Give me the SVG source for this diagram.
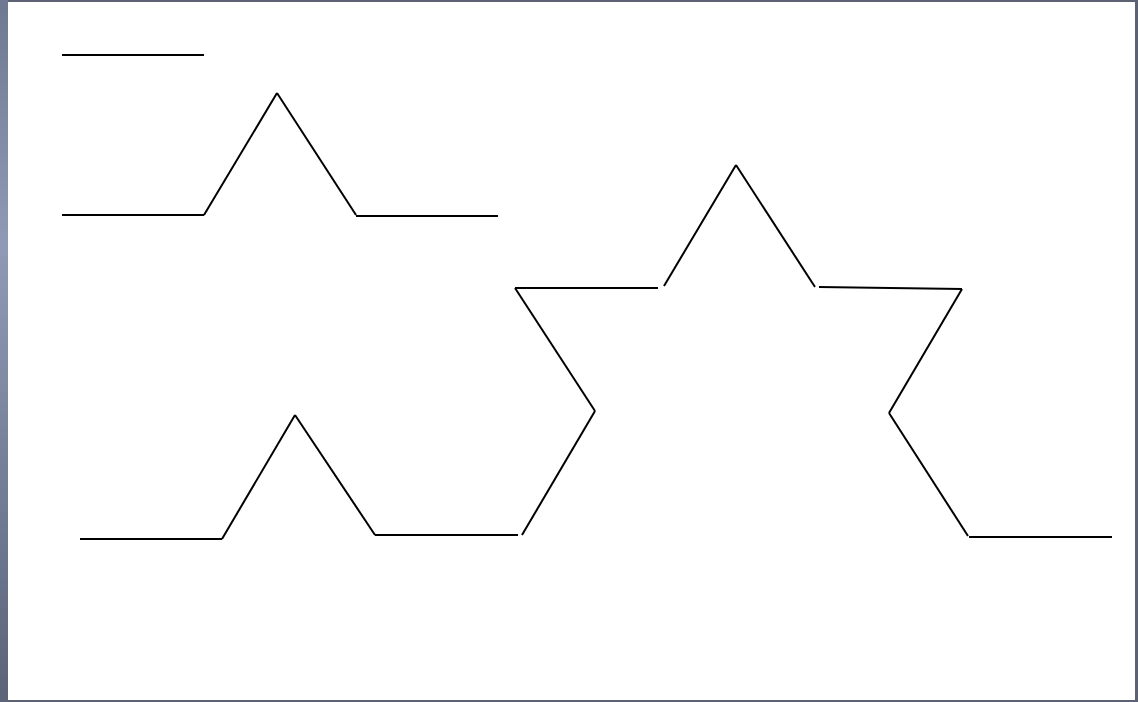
<svg xmlns="http://www.w3.org/2000/svg" width="1138" height="702" viewBox="0 0 1138 702">
<defs>
<linearGradient id="side" x1="0" y1="0" x2="0" y2="1">
<stop offset="0" stop-color="#6e7890"/>
<stop offset="0.35" stop-color="#8f9bb6"/>
<stop offset="1" stop-color="#5a6377"/>
</linearGradient>
<style>
.seg{stroke:#000;stroke-width:2;fill:none;stroke-linecap:butt}
</style>
</defs>
<rect x="0" y="0" width="1138" height="702" fill="#5c6274"/>
<rect x="0" y="0" width="8" height="702" fill="url(#side)"/>
<rect x="8" y="2" width="1127" height="698" fill="#ffffff"/>
<g id="level0">
<line class="seg" x1="62" y1="55" x2="204" y2="55"/>
</g>
<g id="level1">
<line class="seg" x1="62" y1="215" x2="204" y2="215"/>
<line class="seg" x1="204" y1="215" x2="277" y2="93"/>
<line class="seg" x1="277" y1="93" x2="356" y2="215"/>
<line class="seg" x1="356" y1="216" x2="498" y2="216"/>
</g>
<g id="level2">
<line class="seg" x1="80" y1="539" x2="222" y2="539"/>
<line class="seg" x1="222" y1="539" x2="295" y2="415"/>
<line class="seg" x1="295" y1="415" x2="375" y2="535"/>
<line class="seg" x1="375" y1="535" x2="518" y2="535"/>
<line class="seg" x1="522" y1="535" x2="595" y2="411"/>
<line class="seg" x1="595" y1="411" x2="515" y2="288"/>
<line class="seg" x1="515" y1="288" x2="658" y2="288"/>
<line class="seg" x1="664" y1="286" x2="736" y2="165"/>
<line class="seg" x1="736" y1="165" x2="815" y2="287"/>
<line class="seg" x1="819" y1="287" x2="962" y2="289"/>
<line class="seg" x1="962" y1="289" x2="889" y2="413"/>
<line class="seg" x1="889" y1="413" x2="968" y2="536"/>
<line class="seg" x1="969" y1="537" x2="1112" y2="537"/>
</g>
</svg>
